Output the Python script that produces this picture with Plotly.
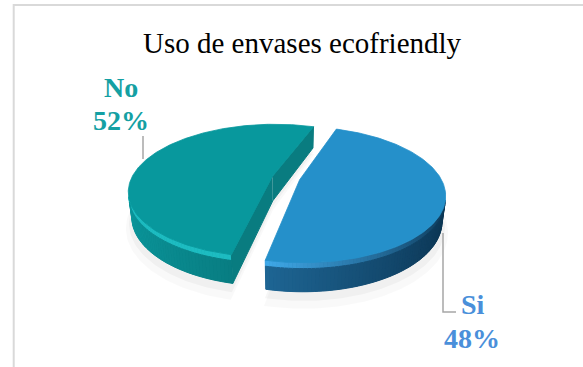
import numpy as np
import plotly.graph_objects as go

# ---------------- data ----------------
title_text = "Uso de envases ecofriendly"
labels = ["Si", "No"]
values = [48, 52]
label_colors = ["#4A8FDA", "#14A0A3"]
top_colors = ["#2590CA", "#08989D"]
wall_light = ["#2A86C0", "#0B979C"]
wall_dark = ["#0B3350", "#04555A"]
rim_colors = ["#3FA8E8", "#1DBCC1"]
cut_colors = ["#145F8C", "#097C80"]

# ---------------- geometry (pseudo 3D pie) ----------------
W, H = 583, 367
CX, CY = 286, 178
TILT = np.radians(27)
S, C = np.sin(TILT), np.cos(TILT)
DIST = 4.1
FOC = 141 * DIST
THICK = 0.2
EXPLODE = 0.1
START = 19.4  # degrees clockwise from far point


def proj(X, Y, Z):
    X, Y, Z = np.asarray(X, float), np.asarray(Y, float), np.asarray(Z, float)
    depth = DIST - (Y * S + Z * C)
    return CX + FOC * X / depth, CY - FOC * (Y * C - Z * S) / depth


def hex2rgb(h):
    h = h.lstrip("#")
    return np.array([int(h[i:i + 2], 16) for i in (0, 2, 4)], float)


def mix(a, b, t):
    t = min(max(t, 0.0), 1.0)
    c = hex2rgb(a) * (1 - t) + hex2rgb(b) * t
    return "rgb(%d,%d,%d)" % tuple(np.round(c).astype(int))


def poly(fig, xs, ys, color, line=None):
    fig.add_trace(go.Scatter(x=list(xs), y=list(ys), mode="lines", fill="toself",
                             fillcolor=color,
                             line=dict(width=1.0 if line is None else line, color=color),
                             hoverinfo="skip", showlegend=False))


fig = go.Figure()

total = float(sum(values))
bounds = []
acc = START
for v in values:
    a0 = acc
    a1 = acc + 360.0 * v / total
    bounds.append((a0, a1))
    acc = a1

cam = np.array([0.0, DIST * S, DIST * C])

# soft shadows first
for i, (a0, a1) in enumerate(bounds):
    m = np.radians((a0 + a1) / 2)
    ox, oz = EXPLODE * np.sin(m), -EXPLODE * np.cos(m)
    th = np.radians(np.linspace(a0, a1, 120))
    for sc, yy, al in [(1.05, -THICK - 0.08, 0.025), (1.025, -THICK - 0.045, 0.035)]:
        X = np.concatenate([[ox], ox + sc * np.sin(th), [ox]])
        Z = np.concatenate([[oz], oz - sc * np.cos(th), [oz]])
        sx, sy = proj(X, np.full_like(X, yy), Z)
        poly(fig, sx, sy, "rgba(0,0,0,%.3f)" % al, line=0)

# draw No (index 1) first, then Si (index 0)
for i in [1, 0]:
    a0, a1 = bounds[i]
    m = np.radians((a0 + a1) / 2)
    ox, oz = EXPLODE * np.sin(m), -EXPLODE * np.cos(m)

    # outer wall strips
    n = 140
    th = np.radians(np.linspace(a0, a1, n + 1))
    vis = []
    for k in range(n):
        t0, t1 = th[k], th[k + 1]
        tm = (t0 + t1) / 2
        px, pz = ox + np.sin(tm), oz - np.cos(tm)
        normal = np.array([np.sin(tm), 0, -np.cos(tm)])
        if normal @ (cam - np.array([px, -THICK / 2, pz])) > 0:
            vis.append(k)
    if vis:
        # underlay for the whole visible wall (hides seams between strips)
        tt = np.linspace(th[vis[0]], th[vis[-1] + 1], 80)
        X = np.concatenate([ox + np.sin(tt), ox + np.sin(tt[::-1])])
        Z = np.concatenate([oz - np.cos(tt), oz - np.cos(tt[::-1])])
        Y = np.concatenate([np.zeros_like(tt), np.full_like(tt, -THICK)])
        sx, sy = proj(X, Y, Z)
        poly(fig, sx, sy, mix(wall_light[i], wall_dark[i], 0.5), line=0)
    for k in vis:
        t0, t1 = th[k], th[k + 1]
        tm = (t0 + t1) / 2
        X = [ox + np.sin(t0), ox + np.sin(t1)]
        Z = [oz - np.cos(t0), oz - np.cos(t1)]
        col = mix(wall_light[i], wall_dark[i], (np.sin(tm) + 1) / 2)
        rim = mix(rim_colors[i], wall_dark[i], max(0.0, (np.sin(tm) + 0.2)) / 1.2)
        for (ya, yb, cc) in [(0.0, -0.04, rim), (-0.04, -THICK, col)]:
            xs, ys = proj([X[0], X[1], X[1], X[0]], [ya, ya, yb, yb], [Z[0], Z[1], Z[1], Z[0]])
            poly(fig, xs, ys, cc)

    # cut faces (radial)
    for ang, sign in [(a1, 1), (a0, -1)]:
        t = np.radians(ang)
        rx, rz = np.sin(t), -np.cos(t)
        normal = sign * np.array([np.cos(t), 0, np.sin(t)])
        mid = np.array([ox + rx / 2, -THICK / 2, oz + rz / 2])
        if normal @ (cam - mid) <= 0:
            continue
        xs, ys = proj([ox, ox + rx, ox + rx, ox], [0, 0, -THICK, -THICK], [oz, oz + rz, oz + rz, oz])
        poly(fig, xs, ys, cut_colors[i])

    # top surface
    th = np.radians(np.linspace(a0, a1, 200))
    X = np.concatenate([[ox], ox + np.sin(th), [ox]])
    Z = np.concatenate([[oz], oz - np.cos(th), [oz]])
    sx, sy = proj(X, np.zeros_like(X), Z)
    poly(fig, sx, sy, top_colors[i], line=0.8)

# ---------------- text ----------------
annotations = [
    dict(x=302, y=43, text=title_text, showarrow=False, xanchor="center", yanchor="middle",
         font=dict(family="Liberation Serif", size=29, color="#000000")),
]
label_pos = {"No": [(121, 87), (121, 120)], "Si": [(473, 304), (472, 338)]}
for lab, val, col in zip(labels, values, label_colors):
    (nx, ny), (px_, py_) = label_pos[lab]
    for (xx, yy, tx) in [(nx, ny, lab), (px_, py_, "%d%%" % round(100 * val / total))]:
        annotations.append(dict(x=xx, y=yy, text="<b>%s</b>" % tx, showarrow=False,
                                xanchor="center", yanchor="middle",
                                font=dict(family="Liberation Serif", size=28, color=col)))

shapes = [
    dict(type="rect", xref="x", yref="y", x0=13.7, y0=5, x1=W + 20, y1=H + 20,
         line=dict(color="#D9D9D9", width=2), layer="below"),
    dict(type="line", xref="x", yref="y", x0=143, y0=136, x1=143, y1=159,
         line=dict(color="#A6A6A6", width=1.5)),
    dict(type="path", xref="x", yref="y", path="M 443 233 L 443 312 L 456 312",
         line=dict(color="#A6A6A6", width=1.5)),
]

fig.update_layout(
    width=W, height=H, margin=dict(l=0, r=0, t=0, b=0),
    paper_bgcolor="white", plot_bgcolor="white", showlegend=False, hovermode=False,
    xaxis=dict(range=[0, W], visible=False, fixedrange=True),
    yaxis=dict(range=[H, 0], visible=False, fixedrange=True),
    annotations=annotations, shapes=shapes,
)

fig.write_html("out.html")
